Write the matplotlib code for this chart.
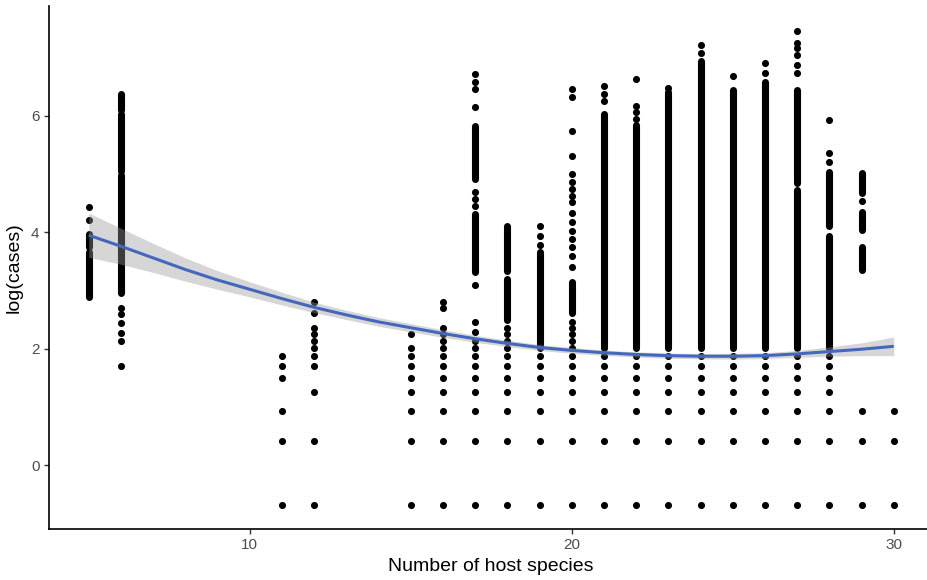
import numpy as np
import matplotlib
matplotlib.use("Agg")
import matplotlib.pyplot as plt

plt.rcParams['font.family'] = ['Liberation Sans', 'DejaVu Sans']

# number of host species (x) for every column of observations
host_species = [5, 6, 11, 12, 15, 16, 17, 18, 19, 20, 21, 22, 23, 24, 25, 26, 27, 28, 29, 30]

# log(cases) of the separate points in each column
single_cases = [
    [4.43, 4.22],
    [2.70, 2.60, 2.44, 2.27, 2.14, 1.70],
    [1.87, 1.70, 1.50, 0.92, 0.41, -0.69],
    [2.81, 2.62, 2.35, 2.25, 2.14, 2.01, 1.87, 1.70, 1.25, 0.41, -0.69],
    [2.25, 2.01, 1.87, 1.70, 1.50, 1.25, 0.92, 0.41, -0.69],
    [2.81, 2.70, 2.35, 2.25, 2.14, 2.01, 1.87, 1.70, 1.50, 1.25, 0.92, 0.41, -0.69],
    [6.72, 6.59, 6.47, 6.15, 4.69, 4.57, 4.45, 3.09, 2.45, 2.28, 2.14, 2.01,
     1.87, 1.70, 1.50, 1.25, 0.92, 0.41, -0.69],
    [2.36, 2.25, 2.14, 2.01, 1.87, 1.70, 1.50, 1.25, 0.92, 0.41, -0.69],
    [4.10, 3.93, 3.79, 1.87, 1.70, 1.50, 1.25, 0.92, 0.41, -0.69],
    [6.47, 6.33, 5.74, 5.31, 5.00, 4.86, 4.74, 4.62, 4.52, 4.34, 4.17, 4.02,
     3.88, 3.74, 3.59, 3.40, 2.45, 2.35, 2.25, 2.14, 2.01, 1.87, 1.70, 1.50,
     1.25, 0.92, 0.41, -0.69],
    [6.52, 6.38, 6.26, 1.87, 1.70, 1.50, 1.25, 0.92, 0.41, -0.69],
    [6.64, 6.17, 6.07, 5.95, 1.87, 1.70, 1.50, 1.25, 0.92, 0.41, -0.69],
    [6.48, 1.87, 1.70, 1.50, 1.25, 0.92, 0.41, -0.69],
    [7.22, 7.09, 1.87, 1.70, 1.50, 1.25, 0.92, 0.41, -0.69],
    [6.69, 1.87, 1.70, 1.50, 1.25, 0.92, 0.41, -0.69],
    [6.91, 6.73, 1.87, 1.70, 1.50, 1.25, 0.92, 0.41, -0.69],
    [7.46, 7.25, 7.17, 7.05, 6.88, 6.74, 1.87, 1.70, 1.50, 1.25, 0.92, 0.41, -0.69],
    [5.93, 5.36, 5.21, 1.87, 1.70, 1.50, 1.25, 0.92, 0.41, -0.69],
    [4.54, 0.92, 0.41, -0.69],
    [0.92, 0.41, -0.69],
]

# stretches of log(cases) where the points overlap into a solid stack
stacked_cases = [
    [(3.75, 3.97), (2.88, 3.66)],
    [(6.10, 6.37), (5.05, 6.03), (2.95, 4.98)],
    [],
    [],
    [],
    [],
    [(4.91, 5.83), (3.31, 4.31)],
    [(3.33, 4.10), (2.50, 3.19)],
    [(2.01, 3.66)],
    [(2.62, 3.14)],
    [(2.01, 6.03)],
    [(2.01, 5.84)],
    [(2.01, 6.41)],
    [(2.01, 6.95)],
    [(2.01, 6.45)],
    [(2.01, 6.59)],
    [(4.85, 6.45), (2.01, 4.73)],
    [(4.10, 5.03), (2.01, 3.93)],
    [(4.68, 5.02), (4.04, 4.35), (3.35, 3.75)],
    [],
]

# smoothed trend with its confidence band
smooth_x = list(range(5, 31))
smooth_fit = [3.95, 3.76, 3.56, 3.36, 3.18, 3.02, 2.86, 2.71, 2.58, 2.46, 2.36, 2.26, 2.17,
              2.09, 2.02, 1.97, 1.93, 1.90, 1.88, 1.87, 1.87, 1.88, 1.91, 1.95, 1.99, 2.04]
smooth_halfwidth = [0.38, 0.31, 0.25, 0.20, 0.16, 0.13, 0.11, 0.09, 0.08, 0.075, 0.07, 0.065,
                    0.06, 0.055, 0.05, 0.05, 0.045, 0.045, 0.045, 0.045, 0.05, 0.05, 0.06,
                    0.08, 0.11, 0.16]

fig = plt.figure(figsize=(9.27, 5.80), dpi=100)
ax = fig.add_axes([48.5 / 927, 1 - 529 / 580, 885.5 / 927, 523 / 580])

pt_size = 5.1  # point diameter in pt

xs, ys = [], []
for x, vals in zip(host_species, single_cases):
    xs += [x] * len(vals)
    ys += vals
ax.scatter(xs, ys, s=pt_size ** 2, color='black', linewidths=0, zorder=2)

seg_x, seg_lo, seg_hi = [], [], []
for x, runs in zip(host_species, stacked_cases):
    for lo, hi in runs:
        seg_x.append(x)
        seg_lo.append(lo)
        seg_hi.append(hi)
stacks = ax.vlines(seg_x, seg_lo, seg_hi, colors='black', linewidth=pt_size, zorder=2)
stacks.set_capstyle('round')

fit = np.array(smooth_fit)
half = np.array(smooth_halfwidth)
ax.fill_between(smooth_x, fit - half, fit + half, color='#999999', alpha=0.4,
                linewidth=0, zorder=3)
ax.plot(smooth_x, fit, color='#4467BE', linewidth=2.2, zorder=4,
        solid_capstyle='butt')

ax.set_xlim(3.75, 31.25)
ax.set_ylim(-1.10, 7.89)
ax.set_xticks([10, 20, 30])
ax.set_yticks([0, 2, 4, 6])

for side in ['top', 'right']:
    ax.spines[side].set_visible(False)
for side in ['left', 'bottom']:
    ax.spines[side].set_linewidth(1.2)
    ax.spines[side].set_color('black')

ax.tick_params(axis='both', length=3.5, width=1.0, color='#333333',
               labelsize=11, labelcolor='#4D4D4D', pad=3)

ax.set_xlabel('Number of host species', fontsize=14, labelpad=4)
ax.set_ylabel('log(cases)', fontsize=14, labelpad=6)

fig.savefig('out.png', dpi=100)
